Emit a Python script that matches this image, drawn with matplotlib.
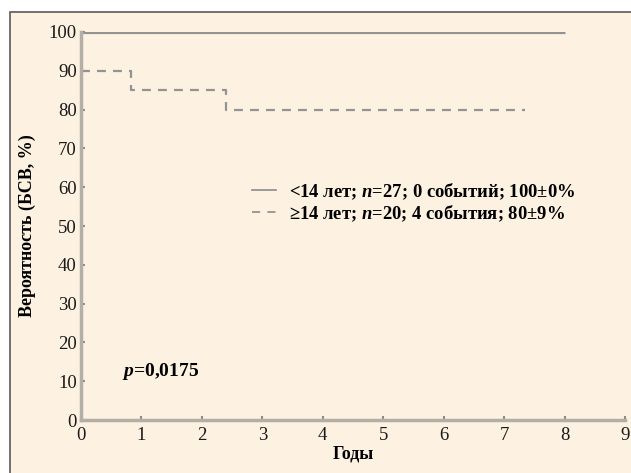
import matplotlib
matplotlib.use('Agg')
import matplotlib.pyplot as plt
from matplotlib.patches import Rectangle
from matplotlib.lines import Line2D

# survival curves (years, %)
young_t = [0, 8.0]
young_s = [100, 100]
old_t = [0, 0.82, 2.4, 7.35]
old_s = [90, 85, 80, 80]

young_label = r'<14 лет; $\mathbfit{n}$=27; 0 событий; 100±0%'
old_label = r'≥14 лет; $\mathbfit{n}$=20; 4 события; 80±9%'
p_text = r'$\mathbfit{p}$=0,0175'

x_ticks = list(range(0, 10))
y_ticks = list(range(0, 101, 10))

plt.rcParams['font.family'] = 'Liberation Serif'
plt.rcParams['mathtext.fontset'] = 'custom'
plt.rcParams['mathtext.rm'] = 'Liberation Serif'
plt.rcParams['mathtext.it'] = 'Liberation Serif:italic'
plt.rcParams['mathtext.bf'] = 'Liberation Serif:bold'
plt.rcParams['mathtext.bfit'] = 'Liberation Serif:italic:bold'

bg = '#fdf2e1'
line_c = '#939393'
axis_c = '#b3afa6'
dash = (0, (4, 3.2))

fig = plt.figure(figsize=(6.31, 4.73), dpi=100)
fig.patch.set_facecolor('white')
fig.patches.append(Rectangle((10 / 631, -0.1), 1.2, (473 - 12) / 473 + 0.1,
                             transform=fig.transFigure, facecolor=bg,
                             edgecolor='#5a5a5a', lw=1.2, zorder=-10))

ax = fig.add_axes([81 / 631, 53 / 473, 544 / 631, 388 / 473])
ax.set_facecolor('none')

ax.step(young_t, young_s, where='post', color=line_c, lw=2.3, solid_capstyle='butt')
ax.step(old_t, old_s, where='post', color=line_c, lw=1.6, linestyle=dash)

ax.set_xlim(0, 9)
ax.set_ylim(0, 100)
ax.set_xticks(x_ticks)
ax.set_yticks(y_ticks)
for s in ['top', 'right']:
    ax.spines[s].set_visible(False)
for s in ['left', 'bottom']:
    ax.spines[s].set_color(axis_c)
    ax.spines[s].set_linewidth(2.5)
ax.tick_params(direction='in', length=3, width=1.5, color='#8f8b83',
               labelsize=13.5, labelcolor='#1a1a1a')
ax.tick_params(axis='y', pad=3)
ax.tick_params(axis='x', pad=5)

ax.set_xlabel('Годы', fontsize=13, fontweight='bold', labelpad=1)
ax.set_ylabel('Вероятность (БСВ, %)', fontsize=13, fontweight='bold', labelpad=9)

ax.text(0.68, 12.6, p_text, fontsize=14, fontweight='bold', va='center')

handles = [Line2D([], [], color=line_c, lw=1.3),
           Line2D([], [], color=line_c, lw=1.3, linestyle=(0, (4.5, 4)))]
ax.legend(handles, [young_label, old_label], loc='upper left',
          bbox_to_anchor=(0.297, 0.64), frameon=False,
          prop={'weight': 'bold', 'size': 13.4}, handlelength=1.3,
          handletextpad=0.7, labelspacing=0.08, borderpad=0)

fig.savefig('out.png', dpi=100, facecolor=fig.get_facecolor())
